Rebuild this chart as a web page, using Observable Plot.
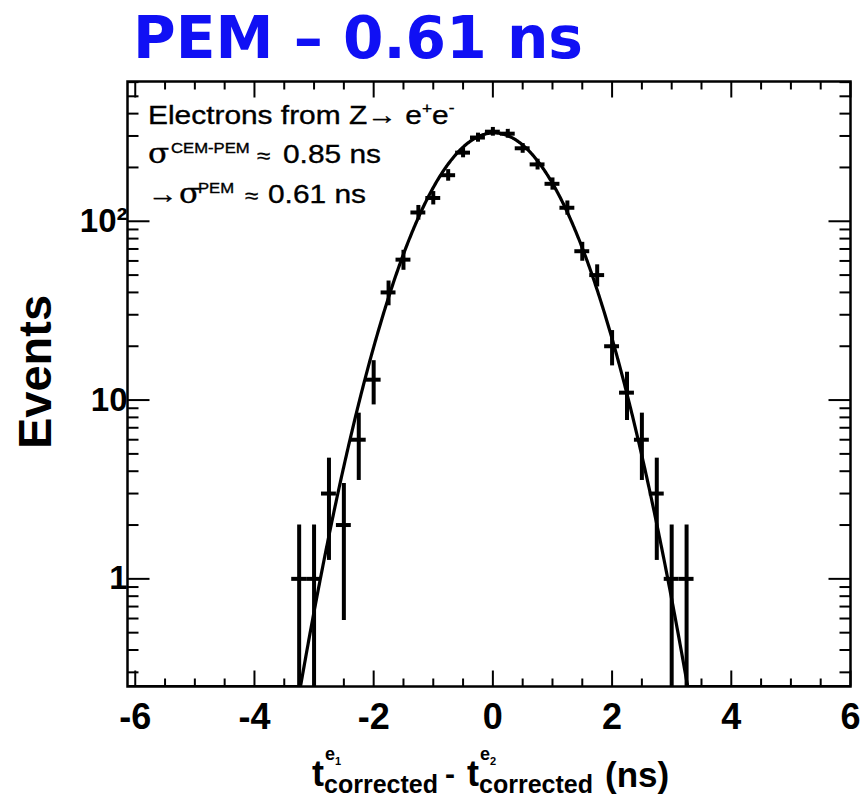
<!DOCTYPE html>
<html>
<head>
<meta charset="utf-8">
<script src="https://cdn.jsdelivr.net/npm/d3@7"></script>
<script src="https://cdn.jsdelivr.net/npm/@observablehq/plot@0.6"></script>
<style>
  body { margin: 0; background: #fff; }
  #fig { position: relative; width: 860px; height: 797px; overflow: hidden; }
  #fig svg { position: absolute; left: 0; top: 0; }
  #title {
    position: absolute; left: 133px; top: 9px; z-index: 2;
    font-family: "DejaVu Sans", sans-serif; font-weight: bold; font-size: 58px;
    line-height: 1; color: #1010f4; white-space: nowrap; transform-origin: 0 0;
  }
</style>
</head>
<body>
<div id="fig"><div id="title">PEM – 0.61 ns</div></div>
<script>
// Histogram of the time difference between the two electrons (bin width 0.25 ns)
const binCenters = [-3.25, -3.0, -2.75, -2.5, -2.25, -2.0, -1.75, -1.5, -1.25, -1.0, -0.75, -0.5, -0.25,
                    0, 0.25, 0.5, 0.75, 1.0, 1.25, 1.5, 1.75, 2.0, 2.25, 2.5, 2.75, 3.0, 3.25];
const binCounts  = [1, 1, 3, 2, 6, 13, 40, 61, 112, 135, 181, 242, 294,
                    317, 309, 256, 208, 162, 119, 68, 50, 20, 11, 6, 3, 1, 1];
const binWidth = 0.25;

// Gaussian fit parameters
const fitAmplitude = 312;
const fitMean = 0.02;
const fitSigma = 0.86;

// Axis layout values
const xDomain = [-6.13, 6.0];
const yDomain = [0.25, 605];
const xMajorTicks = [-6, -4, -2, 0, 2, 4, 6];
const xMinorTicks = [-5.5, -5, -4.5, -3.5, -3, -2.5, -1.5, -1, -0.5, 0.5, 1, 1.5, 2.5, 3, 3.5, 4.5, 5, 5.5];
const yMajorTicks = [1, 10, 100];
const yMinorTicks = [0.3, 0.4, 0.5, 0.6, 0.7, 0.8, 0.9, 2, 3, 4, 5, 6, 7, 8, 9,
                     20, 30, 40, 50, 60, 70, 80, 90, 200, 300, 400, 500, 600];
const yTickLabels = {1: "1", 10: "10", 100: "10²"};

const W = 860, H = 797, mTop = 81, mBottom = 111, mLeft = 127, mRight = 10;

const bins = binCenters.map((c, i) => ({c, n: binCounts[i]}));
const fitCurve = d3.range(xDomain[0], xDomain[1] + 1e-9, 0.01).map(x => ({
  x,
  y: Math.max(fitAmplitude * Math.exp(-((x - fitMean) ** 2) / (2 * fitSigma ** 2)), yDomain[0])
}));

// Tick segments: pixel lengths turned into data extents so the ticks point into the frame
const pxPerUnitX = (W - mLeft - mRight) / (xDomain[1] - xDomain[0]);
const pxPerDecade = (H - mTop - mBottom) / Math.log10(yDomain[1] / yDomain[0]);
const dxOf = px => px / pxPerUnitX;
const fyOf = px => Math.pow(10, px / pxPerDecade);

const xTickSegs = [];
for (const [list, len] of [[xMajorTicks, 16], [xMinorTicks, 8]]) {
  for (const v of list) {
    xTickSegs.push({x: v, lo: yDomain[0], hi: yDomain[0] * fyOf(len)});
    xTickSegs.push({x: v, lo: yDomain[1] / fyOf(len), hi: yDomain[1]});
  }
}
const yTickSegs = [];
for (const [list, len] of [[yMajorTicks, 22], [yMinorTicks, 11]]) {
  for (const v of list) {
    yTickSegs.push({y: v, lo: xDomain[0], hi: xDomain[0] + dxOf(len)});
    yTickSegs.push({y: v, lo: xDomain[1] - dxOf(len), hi: xDomain[1]});
  }
}

const font = "Liberation Sans, Arial, Helvetica, sans-serif";

const svg = Plot.plot({
  width: W,
  height: H,
  marginTop: mTop,
  marginBottom: mBottom,
  marginLeft: mLeft,
  marginRight: mRight,
  style: {fontFamily: font, background: "transparent", color: "#000", overflow: "visible"},
  x: {domain: xDomain},
  y: {type: "log", domain: yDomain},
  marks: [
    Plot.frame({strokeWidth: 2.5}),
    // fit
    Plot.line(fitCurve, {x: "x", y: "y", stroke: "#000", strokeWidth: 3.2, clip: true}),
    // inward ticks on all four sides
    Plot.link(xTickSegs, {x1: "x", x2: "x", y1: "lo", y2: "hi", stroke: "#000", strokeWidth: 2}),
    Plot.link(yTickSegs, {x1: "lo", x2: "hi", y1: "y", y2: "y", stroke: "#000", strokeWidth: 2}),
    // tick labels
    Plot.axisX({anchor: "bottom", ticks: xMajorTicks, tickSize: 0, tickPadding: 17, label: null,
                fontSize: 36, fontWeight: "bold", tickFormat: d => String(d)}),
    Plot.axisY({anchor: "left", ticks: yMajorTicks, tickSize: 0, tickPadding: 0, label: null,
                fontSize: 33, fontWeight: "bold", tickFormat: d => yTickLabels[d]}),
    Plot.text(["Events"], {frameAnchor: "left", textAnchor: "middle", rotate: -90, dx: -92, dy: -12,
                           fontSize: 47, fontWeight: "bold"}),
    // data with Poisson error bars
    Plot.ruleX(bins, {x: "c", y1: d => Math.max(d.n - Math.sqrt(d.n), yDomain[0]), y2: d => d.n + Math.sqrt(d.n),
                      stroke: "#000", strokeWidth: 4, clip: true}),
    Plot.ruleY(bins, {y: "n", x1: d => d.c - binWidth / 2, x2: d => d.c + binWidth / 2,
                      stroke: "#000", strokeWidth: 4, clip: true})
  ]
});

document.getElementById("fig").appendChild(svg);

// Annotation block in the upper left (Helvetica-like text, widened slightly)
const legX = 148, legStretch = 1.15;
const ux = px => legX + (px - legX) / legStretch;
const g = d3.select(svg).append("g")
  .attr("font-family", font).attr("fill", "#000").attr("text-anchor", "start")
  .attr("stroke", "#000").attr("stroke-width", 0.35)
  .attr("transform", `translate(${legX},0) scale(${legStretch},1) translate(${-legX},0)`);

const l1 = g.append("text").attr("x", legX).attr("y", 124).attr("font-size", 26);
l1.append("tspan").text("Electrons from Z→ e");
l1.append("tspan").attr("font-size", 15).attr("dy", -11).text("+");
l1.append("tspan").attr("dy", 11).text("e");
l1.append("tspan").attr("font-size", 15).attr("dy", -11).text("-");

const l2 = g.append("text").attr("x", legX).attr("y", 163).attr("font-size", 26);
l2.append("tspan").attr("font-family", "DejaVu Serif").attr("font-size", 27).text("σ");
l2.append("tspan").attr("x", ux(171)).attr("font-size", 14.5).attr("dy", -10).text("CEM-PEM");
l2.append("tspan").attr("x", ux(257)).attr("font-size", 21).attr("dy", 10).text("≈");
l2.append("tspan").attr("x", ux(283)).text("0.85 ns");

const l3 = g.append("text").attr("x", legX).attr("y", 203).attr("font-size", 26);
l3.append("tspan").text("→");
l3.append("tspan").attr("x", ux(179)).attr("font-family", "DejaVu Serif").attr("font-size", 27).text("σ");
l3.append("tspan").attr("x", ux(198)).attr("font-size", 14.5).attr("dy", -10).text("PEM");
l3.append("tspan").attr("x", ux(245)).attr("font-size", 21).attr("dy", 10).text("≈");
l3.append("tspan").attr("x", ux(268)).text("0.61 ns");

// x-axis title: t^{e1}_{corrected} - t^{e2}_{corrected} (ns)
const xl = d3.select(svg).append("g")
  .attr("font-family", font).attr("fill", "#000").attr("text-anchor", "start").attr("font-weight", "bold");
function tTerm(x0, idx) {
  xl.append("text").attr("x", x0).attr("y", 786).attr("font-size", 36).text("t");
  xl.append("text").attr("x", x0 + 13).attr("y", 760).attr("font-size", 18).text("e");
  xl.append("text").attr("x", x0 + 23).attr("y", 765).attr("font-size", 11).text(idx);
  xl.append("text").attr("x", x0 + 12).attr("y", 793).attr("font-size", 25).text("corrected");
}
tTerm(312, "1");
xl.append("text").attr("x", 445).attr("y", 784).attr("font-size", 30).text("-");
tTerm(467, "2");
xl.append("text").attr("x", 605).attr("y", 787).attr("font-size", 35).text("(ns)");

// fit the heading to its width
const title = document.getElementById("title");
const tw = title.getBoundingClientRect().width;
title.style.transform = `scaleX(${450 / tw})`;
</script>
</body>
</html>
